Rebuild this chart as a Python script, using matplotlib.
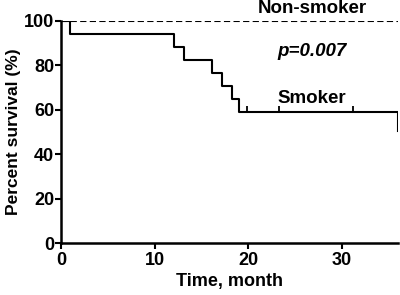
import matplotlib
matplotlib.use('Agg')
import matplotlib.pyplot as plt

# Kaplan-Meier steps
smoker_t = [0, 1, 12.1, 13.1, 16.1, 17.2, 18.3, 19.0, 36]
smoker_s = [100, 94.1, 88.2, 82.4, 76.5, 70.6, 64.7, 58.8, 50.4]
smoker_cens_t = [19.9, 23.3, 31.2]
smoker_cens_s = [58.8, 58.8, 58.8]

nonsmoker_t = [0, 36]
nonsmoker_s = [100, 100]
nonsmoker_cens_t = [1.25, 17.1, 22.9, 24.9, 36]
nonsmoker_cens_s = [100, 100, 100, 100, 100]

plt.rcParams['font.family'] = ['Liberation Sans', 'DejaVu Sans']
plt.rcParams['font.weight'] = 'bold'

fig = plt.figure(figsize=(4, 2.95), dpi=100)
ax = fig.add_axes([0.1525, 0.175, 0.8425, 0.755])

ax.step(smoker_t, smoker_s, where='post', color='black', lw=1.5)
ax.step(nonsmoker_t, nonsmoker_s, where='post', color='black', lw=1.5,
        linestyle=(0, (3, 1.6)))
ax.plot(smoker_cens_t, [s + 1.5 for s in smoker_cens_s], linestyle='none',
        marker='|', markersize=5, mew=1.3, color='black')
ax.plot(nonsmoker_cens_t, [s + 1.5 for s in nonsmoker_cens_s], linestyle='none',
        marker='|', markersize=5, mew=1.3, color='black')

ax.set_xlim(0, 36)
ax.set_ylim(0, 100)
ax.set_xticks([0, 10, 20, 30])
ax.set_yticks([0, 20, 40, 60, 80, 100])
for s in ['top', 'right']:
    ax.spines[s].set_visible(False)
for s in ['left', 'bottom']:
    ax.spines[s].set_linewidth(1.8)
ax.tick_params(width=1.5, length=4, labelsize=13, pad=2)
ax.tick_params(axis='y', pad=1)
for lab in ax.get_xticklabels() + ax.get_yticklabels():
    lab.set_fontweight('bold')

ax.set_xlabel('Time, month', fontsize=13, fontweight='bold', labelpad=3)
ax.set_ylabel('Percent survival (%)', fontsize=12.5, fontweight='bold', labelpad=2)

ax.text(26.8, 105.5, 'Non-smoker', ha='center', va='center', fontsize=13.5, fontweight='bold')
ax.text(26.8, 86, 'p=0.007', ha='center', va='center', fontsize=13.5,
        fontweight='bold', style='italic')
ax.text(26.8, 65, 'Smoker', ha='center', va='center', fontsize=13.5, fontweight='bold')

fig.savefig('out.png', dpi=100)
